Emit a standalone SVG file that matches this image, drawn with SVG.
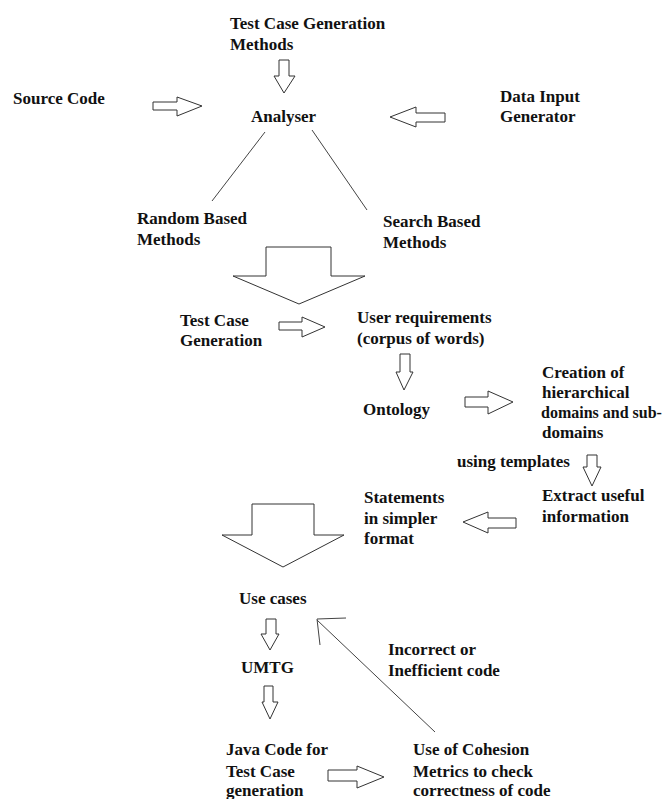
<svg xmlns="http://www.w3.org/2000/svg" width="666" height="799" viewBox="0 0 666 799">
<style>
text{font-weight:bold;font-size:17px;fill:#111}
.ar{fill:#fff;stroke:#333;stroke-width:1}
.ln{fill:none;stroke:#444;stroke-width:1}
</style>
<rect width="666" height="799" fill="#fff"/>
<g id="connectors">
<polygon class="ar" points="153,102 177,102 177,97 202,106 177,116 177,110 153,110"/>
<polygon class="ar" points="279,60 289,60 289,76 295,76 284,93 274,76 279,76"/>
<polygon class="ar" points="445,113 416,113 416,107 390,117 416,127 416,122 445,122"/>
<line class="ln" x1="265" y1="132" x2="212" y2="201"/>
<line class="ln" x1="312" y1="130" x2="367" y2="210"/>
<polygon class="ar" points="266,247 331,247 331,276 365,276 299,304 233,276 266,276"/>
<polygon class="ar" points="279,322 302,322 302,317 325,327 302,337 302,330 279,330"/>
<polygon class="ar" points="400,354 410,354 410,372 413,372 404,390 396,372 400,372"/>
<polygon class="ar" points="465,397 488,397 488,391 513,402 488,414 488,407 465,407"/>
<polygon class="ar" points="587,455 597,455 597,467 601,467 592,486 583,467 587,467"/>
<polygon class="ar" points="516,518 488,518 488,512 463,522 488,533 488,528 516,528"/>
<polygon class="ar" points="252,504 314,504 314,535 344,535 283,567 222,535 252,535"/>
<polygon class="ar" points="266,619 276,619 276,634 279,634 270,650 261,634 266,634"/>
<polygon class="ar" points="264,686 273,686 273,702 278,702 270,719 262,702 264,702"/>
<polygon class="ar" points="328,770 357,770 357,766 384,777 357,788 357,781 328,781"/>
<line class="ln" x1="435" y1="732" x2="317" y2="620"/>
<polyline class="ln" points="346,618 317,619 320,645"/>
</g>
<g font-family="'Liberation Serif', Tinos, 'Times New Roman', 'DejaVu Serif', serif">
<g id="tcg-methods"><text x="230" y="29">Test Case Generation<tspan x="230" y="50">Methods</tspan></text></g>
<g id="source-code"><text x="13" y="104">Source Code</text></g>
<g id="analyser"><text x="251" y="122">Analyser</text></g>
<g id="data-input"><text x="500" y="102">Data Input<tspan x="500" y="122">Generator</tspan></text></g>
<g id="random"><text x="137" y="224">Random Based<tspan x="137" y="245">Methods</tspan></text></g>
<g id="search"><text x="383" y="227">Search Based<tspan x="383" y="248">Methods</tspan></text></g>
<g id="tcg"><text x="180" y="326">Test Case<tspan x="180" y="346">Generation</tspan></text></g>
<g id="user-req"><text x="357" y="323">User requirements<tspan x="357" y="344">(corpus of words)</tspan></text></g>
<g id="ontology"><text x="363" y="415">Ontology</text></g>
<g id="creation"><text x="542" y="378">Creation of<tspan x="542" y="398">hierarchical</tspan><tspan x="541" y="418" font-size="16">domains and sub-</tspan><tspan x="542" y="438">domains</tspan></text></g>
<g id="using-templates"><text x="457" y="467">using templates</text></g>
<g id="extract"><text x="542" y="501">Extract useful<tspan x="542" y="522">information</tspan></text></g>
<g id="statements"><text x="364" y="503">Statements<tspan x="364" y="524">in simpler</tspan><tspan x="364" y="544">format</tspan></text></g>
<g id="use-cases"><text x="239" y="604">Use cases</text></g>
<g id="umtg"><text x="241" y="673">UMTG</text></g>
<g id="incorrect"><text x="388" y="655">Incorrect or<tspan x="388" y="676">Inefficient code</tspan></text></g>
<g id="java"><text x="226" y="755">Java Code for<tspan x="226" y="777">Test Case</tspan><tspan x="226" y="796">generation</tspan></text></g>
<g id="cohesion"><text x="413" y="755">Use of Cohesion<tspan x="413" y="777">Metrics to check</tspan><tspan x="413" y="796">correctness of code</tspan></text></g>
</g>
</svg>
